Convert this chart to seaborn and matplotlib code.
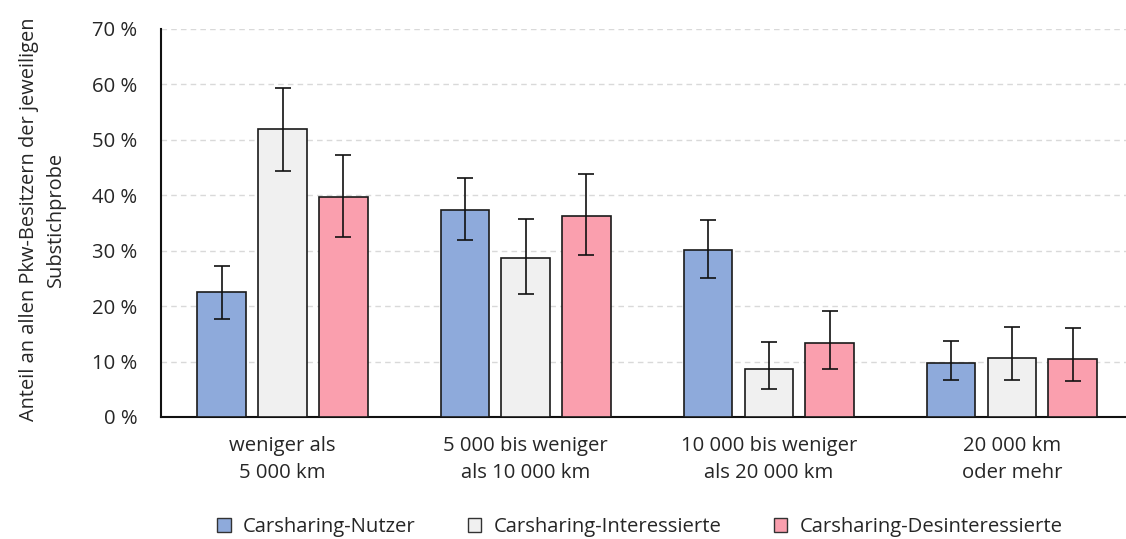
import numpy as np
import pandas as pd
import matplotlib
matplotlib.use("Agg")
import matplotlib.pyplot as plt
import seaborn as sns
from matplotlib.patches import Patch

categories = ["weniger als\n5 000 km", "5 000 bis weniger\nals 10 000 km",
              "10 000 bis weniger\nals 20 000 km", "20 000 km\noder mehr"]
series = ["Carsharing-Nutzer", "Carsharing-Interessierte", "Carsharing-Desinteressierte"]
nutzer = [22.6, 37.3, 30.1, 9.8]
nutzer_lo = [17.7, 31.9, 25.0, 6.7]
nutzer_hi = [27.3, 43.1, 35.6, 13.7]
interessierte = [51.9, 28.6, 8.6, 10.7]
interessierte_lo = [44.4, 22.2, 5.0, 6.7]
interessierte_hi = [59.3, 35.7, 13.6, 16.2]
desinteressierte = [39.7, 36.3, 13.3, 10.5]
desinteressierte_lo = [32.4, 29.2, 8.7, 6.5]
desinteressierte_hi = [47.2, 43.8, 19.2, 16.0]
colors = ["#8eaadb", "#f0f0f0", "#fa9fae"]
yticks = [0, 10, 20, 30, 40, 50, 60, 70]

sns.set_theme(style="white")
plt.rcParams['font.family'] = ['Open Sans', 'DejaVu Sans']
FS = 14.6
TXT = "#262626"

vals = [nutzer, interessierte, desinteressierte]
los = [nutzer_lo, interessierte_lo, desinteressierte_lo]
his = [nutzer_hi, interessierte_hi, desinteressierte_hi]
rows = []
for s, v in zip(series, vals):
    for c, x in zip(categories, v):
        rows.append({"cat": c, "series": s, "val": x})
df = pd.DataFrame(rows)

W, H = 1126, 539
fig = plt.figure(figsize=(W / 100, H / 100), dpi=100)
ax = fig.add_axes([161 / W, 1 - 417 / H, (1126 - 161) / W, (417 - 29) / H])

sns.barplot(data=df, x="cat", y="val", hue="series", order=categories, hue_order=series,
            palette=colors, saturation=1, width=0.75, gap=0.2, edgecolor="#1a1a1a",
            linewidth=1.2, errorbar=None, legend=False, ax=ax, zorder=3)

bar_containers = list(ax.containers)
for i, cont in enumerate(bar_containers):
    xs = [p.get_x() + p.get_width() / 2 for p in cont.patches]
    v = np.array(vals[i]); lo = np.array(los[i]); hi = np.array(his[i])
    ax.errorbar(xs, v, yerr=[v - lo, hi - v], fmt="none", ecolor="#111111",
                elinewidth=1.2, capsize=6, capthick=1.2, zorder=4)

ax.set_ylim(0, 70)
ax.set_xlim(-0.5, 3.5 - 7.5 / 243)
ax.set_yticks(yticks)
ax.set_yticklabels([f"{t} %" for t in yticks])
ax.yaxis.grid(True, linestyle=(0, (4, 3)), color="#d9d9d9", linewidth=1, zorder=0)
ax.set_axisbelow(True)
for s in ["top", "right"]:
    ax.spines[s].set_visible(False)
for s in ["left", "bottom"]:
    ax.spines[s].set_color("#111111")
    ax.spines[s].set_linewidth(1.5)
ax.tick_params(axis="both", length=0, labelsize=FS, colors=TXT)
ax.tick_params(axis="x", pad=14)
ax.tick_params(axis="y", pad=17)
for lab in ax.get_xticklabels():
    lab.set_linespacing(1.45)
ax.set_xlabel("")
ax.set_ylabel("Anteil an allen Pkw-Besitzern der jeweiligen\nSubstichprobe", fontsize=14.4,
              color=TXT, linespacing=1.5)
ax.yaxis.set_label_coords(-0.098, 0.51)

handles = [Patch(facecolor=c, edgecolor="#333333", linewidth=1) for c in colors]
fig.legend(handles, series, loc="center", bbox_to_anchor=(640 / W, 1 - 527 / H), ncol=3,
           frameon=False, fontsize=FS, handlelength=0.65, handleheight=0.65,
           handletextpad=0.6, columnspacing=2.6, labelcolor=TXT)

fig.savefig("out.png", dpi=100)
